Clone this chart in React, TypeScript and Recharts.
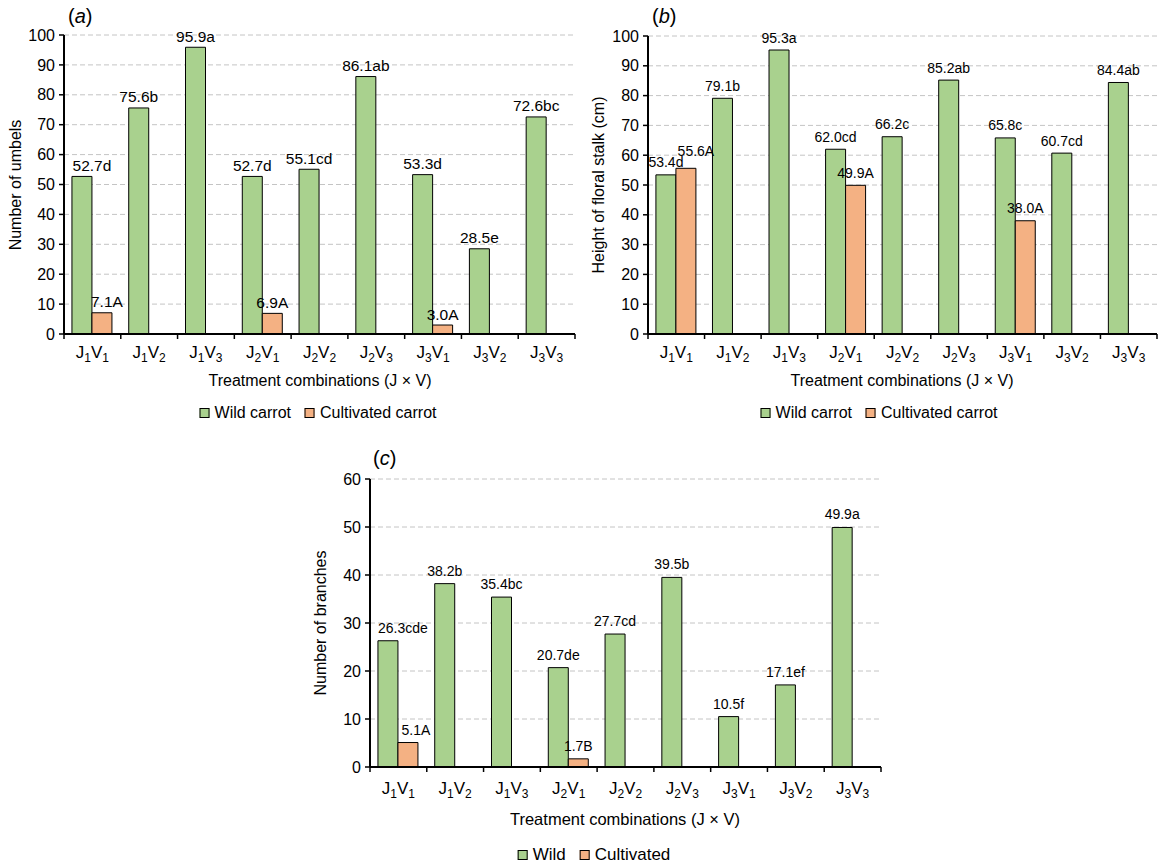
import React from 'react';
import { BarChart, Bar, XAxis, YAxis, CartesianGrid, LabelList } from 'recharts';

// ---------- data ----------
const categories = ['J1V1', 'J1V2', 'J1V3', 'J2V1', 'J2V2', 'J2V3', 'J3V1', 'J3V2', 'J3V3'];

const umbelsWild = [52.7, 75.6, 95.9, 52.7, 55.1, 86.1, 53.3, 28.5, 72.6];
const umbelsWildLetters = ['d', 'b', 'a', 'd', 'cd', 'ab', 'd', 'e', 'bc'];
const umbelsCult = [7.1, null, null, 6.9, null, null, 3.0, null, null];
const umbelsCultLetters = ['A', '', '', 'A', '', '', 'A', '', ''];

const stalkWild = [53.4, 79.1, 95.3, 62.0, 66.2, 85.2, 65.8, 60.7, 84.4];
const stalkWildLetters = ['d', 'b', 'a', 'cd', 'c', 'ab', 'c', 'cd', 'ab'];
const stalkCult = [55.6, null, null, 49.9, null, null, 38.0, null, null];
const stalkCultLetters = ['A', '', '', 'A', '', '', 'A', '', ''];

const branchWild = [26.3, 38.2, 35.4, 20.7, 27.7, 39.5, 10.5, 17.1, 49.9];
const branchWildLetters = ['cde', 'b', 'bc', 'de', 'cd', 'b', 'f', 'ef', 'a'];
const branchCult = [5.1, null, null, 1.7, null, null, null, null, null];
const branchCultLetters = ['A', '', '', 'B', '', '', '', '', ''];

const ticks100 = [0, 10, 20, 30, 40, 50, 60, 70, 80, 90, 100];
const ticks60 = [0, 10, 20, 30, 40, 50, 60];

const xTitle = 'Treatment combinations (J × V)';

// ---------- helpers ----------
const GREEN = '#a9d18e';
const ORANGE = '#f4b183';
const FONT = "'Liberation Sans', Arial, Helvetica, sans-serif";

function buildRows(w: (number | null)[], wl: string[], c: (number | null)[], cl: string[]) {
  return categories.map((cat, i) => ({
    cat,
    wild: w[i],
    cult: c[i],
    wildLbl: w[i] != null ? (w[i] as number).toFixed(1) + wl[i] : null,
    cultLbl: c[i] != null ? (c[i] as number).toFixed(1) + cl[i] : null,
  }));
}

const JVTick = (p: any) => {
  const { x, y, payload, index, band, baseDy, subSize, mainSize } = p;
  const s: string = String(payload.value);
  const j = s.charAt(1);
  const v = s.charAt(3);
  const lx = x - band / 2;
  return (
    <g>
      <line x1={lx} y1={y} x2={lx} y2={y + 5} stroke="#000" strokeWidth={1.5} />
      {index === categories.length - 1 && (
        <line x1={x + band / 2} y1={y} x2={x + band / 2} y2={y + 5} stroke="#000" strokeWidth={1.5} />
      )}
      <text x={x} y={y + baseDy} textAnchor="middle" fontSize={mainSize} fill="#000">
        <tspan>J</tspan>
        <tspan fontSize={subSize} dy={4}>{j}</tspan>
        <tspan dy={-4}>V</tspan>
        <tspan fontSize={subSize} dy={4}>{v}</tspan>
      </text>
    </g>
  );
};

const makeLabel = (dxs: number[], dys: number[], size: number, gap: number) => (p: any) => {
  const { x, y, width, value, index } = p;
  if (value == null || value === '') return null;
  return (
    <text
      x={Number(x) + Number(width) / 2 + (dxs[index] || 0)}
      y={Number(y) - gap + (dys[index] || 0)}
      textAnchor="middle"
      fontSize={size}
      fill="#000"
    >
      {value}
    </text>
  );
};

type Cfg = {
  rows: any[];
  left: number; top: number; width: number; height: number;
  margin: { top: number; right: number; bottom: number; left: number };
  yWidth: number; xHeight: number;
  domainMax: number; ticks: number[];
  yLabel: string; yLabelX: number; yLabelY: number;
  xTitleX: number; xTitleY: number; xTitleSize: number;
  tickBaseDy: number; lblSize: number; lblGap: number;
  wildDx: number[]; cultDx: number[]; cultDy: number[];
  band: number;
  title: string; titleX: number; titleY: number;
  legend: [string, string]; legendX: number; legendY: number; legendSize: number;
};

const Panel = ({ cfg }: { cfg: Cfg }) => {
  const zeros = categories.map(() => 0);
  return (
    <>
      <div
        style={{
          position: 'absolute', left: cfg.titleX, top: cfg.titleY, fontSize: 20,
          lineHeight: '20px', whiteSpace: 'nowrap', color: '#000',
        }}
      >
        (<i>{cfg.title}</i>)
      </div>
      <div style={{ position: 'absolute', left: cfg.left, top: cfg.top }}>
        <BarChart
          width={cfg.width}
          height={cfg.height}
          data={cfg.rows}
          margin={cfg.margin}
          barCategoryGap="14%"
          barGap={0}
        >
          <CartesianGrid vertical={false} stroke="#c4c4c4" strokeDasharray="5 3" />
          <XAxis
            dataKey="cat"
            interval={0}
            tickSize={0}
            tickMargin={0}
            tickLine={false}
            height={cfg.xHeight}
            axisLine={{ stroke: '#000', strokeWidth: 2 }}
            tick={(p: any) => (
              <JVTick {...p} band={cfg.band} baseDy={cfg.tickBaseDy} mainSize={17} subSize={12} />
            )}
            label={() => (
              <text x={cfg.xTitleX} y={cfg.xTitleY} textAnchor="middle" fontSize={cfg.xTitleSize} fill="#000">
                {xTitle}
              </text>
            )}
          />
          <YAxis
            width={cfg.yWidth}
            domain={[0, cfg.domainMax]}
            ticks={cfg.ticks}
            interval={0}
            tickSize={5}
            tickMargin={4}
            tick={{ fontSize: 16, fill: '#000' }}
            tickLine={{ stroke: '#000', strokeWidth: 1.5 }}
            axisLine={{ stroke: '#000', strokeWidth: 2 }}
            label={() => (
              <text
                transform={`translate(${cfg.yLabelX},${cfg.yLabelY}) rotate(-90)`}
                textAnchor="middle"
                fontSize={16}
                fill="#000"
              >
                {cfg.yLabel}
              </text>
            )}
          />
          <Bar dataKey="wild" fill={GREEN} stroke="#000" strokeWidth={1} isAnimationActive={false}>
            <LabelList dataKey="wildLbl" content={makeLabel(cfg.wildDx, zeros, cfg.lblSize, cfg.lblGap)} />
          </Bar>
          <Bar dataKey="cult" fill={ORANGE} stroke="#000" strokeWidth={1} isAnimationActive={false}>
            <LabelList dataKey="cultLbl" content={makeLabel(cfg.cultDx, cfg.cultDy, cfg.lblSize, cfg.lblGap)} />
          </Bar>
        </BarChart>
      </div>
      <div
        style={{
          position: 'absolute', left: cfg.legendX, top: cfg.legendY, transform: 'translate(-50%, -50%)',
          display: 'flex', alignItems: 'center', whiteSpace: 'nowrap', fontSize: cfg.legendSize,
          lineHeight: '18px', color: '#000',
        }}
      >
        <span style={{ width: 8, height: 8, background: GREEN, border: '1px solid #000', marginRight: 5 }} />
        <span style={{ marginRight: 14 }}>{cfg.legend[0]}</span>
        <span style={{ width: 8, height: 8, background: ORANGE, border: '1px solid #000', marginRight: 5 }} />
        <span>{cfg.legend[1]}</span>
      </div>
    </>
  );
};

const cfgA: Cfg = {
  rows: buildRows(umbelsWild, umbelsWildLetters, umbelsCult, umbelsCultLetters),
  left: 0, top: 0, width: 590, height: 440,
  margin: { top: 35, right: 15, bottom: 0, left: 0 },
  yWidth: 64, xHeight: 106,
  domainMax: 100, ticks: ticks100,
  yLabel: 'Number of umbels', yLabelX: 21, yLabelY: 185,
  xTitleX: 320, xTitleY: 386, xTitleSize: 16,
  tickBaseDy: 24, lblSize: 15.5, lblGap: 5.5,
  wildDx: [10, 0, 0, 0, 0, 0, 0, 0, 0],
  cultDx: [5, 0, 0, 5, 0, 0, 5, 0, 0],
  cultDy: [0, 0, 0, 0, 0, 0, 0, 0, 0],
  band: 511 / 9,
  title: 'a', titleX: 68, titleY: 6,
  legend: ['Wild carrot', 'Cultivated carrot'], legendX: 318, legendY: 413, legendSize: 16,
};

const cfgB: Cfg = {
  rows: buildRows(stalkWild, stalkWildLetters, stalkCult, stalkCultLetters),
  left: 580, top: 0, width: 585, height: 440,
  margin: { top: 36, right: 8, bottom: 0, left: 0 },
  yWidth: 68, xHeight: 106,
  domainMax: 100, ticks: ticks100,
  yLabel: 'Height of floral stalk (cm)', yLabelX: 24, yLabelY: 185,
  xTitleX: 322, xTitleY: 386, xTitleSize: 16,
  tickBaseDy: 24, lblSize: 14, lblGap: 7.5,
  wildDx: [0, 0, 0, 0, 0, 0, 0, 0, 0],
  cultDx: [10, 0, 0, 8, 0, 0, 0, 0, 0],
  cultDy: [-5, 0, 0, -2, 0, 0, 0, 0, 0],
  band: 509 / 9,
  title: 'b', titleX: 652, titleY: 6,
  legend: ['Wild carrot', 'Cultivated carrot'], legendX: 879, legendY: 413, legendSize: 16,
};

const cfgC: Cfg = {
  rows: buildRows(branchWild, branchWildLetters, branchCult, branchCultLetters),
  left: 300, top: 440, width: 600, height: 424,
  margin: { top: 39, right: 19, bottom: 0, left: 0 },
  yWidth: 70, xHeight: 97,
  domainMax: 60, ticks: ticks60,
  yLabel: 'Number of branches', yLabelX: 26, yLabelY: 183,
  xTitleX: 325, xTitleY: 385, xTitleSize: 16.5,
  tickBaseDy: 27, lblSize: 14, lblGap: 8,
  wildDx: [15, 0, 0, 0, 0, 0, 0, 0, 0],
  cultDx: [8, 0, 0, 4, 0, 0, 0, 0, 0],
  cultDy: [0, 0, 0, 0, 0, 0, 0, 0, 0],
  band: 511 / 9,
  title: 'c', titleX: 373, titleY: 448,
  legend: ['Wild', 'Cultivated'], legendX: 594, legendY: 855, legendSize: 17,
};

export default function App() {
  return (
    <div
      style={{
        position: 'absolute', left: 0, top: 0, width: 1165, height: 864, background: '#fff',
        fontFamily: FONT, overflow: 'hidden',
      }}
    >
      <Panel cfg={cfgA} />
      <Panel cfg={cfgB} />
      <Panel cfg={cfgC} />
    </div>
  );
}
